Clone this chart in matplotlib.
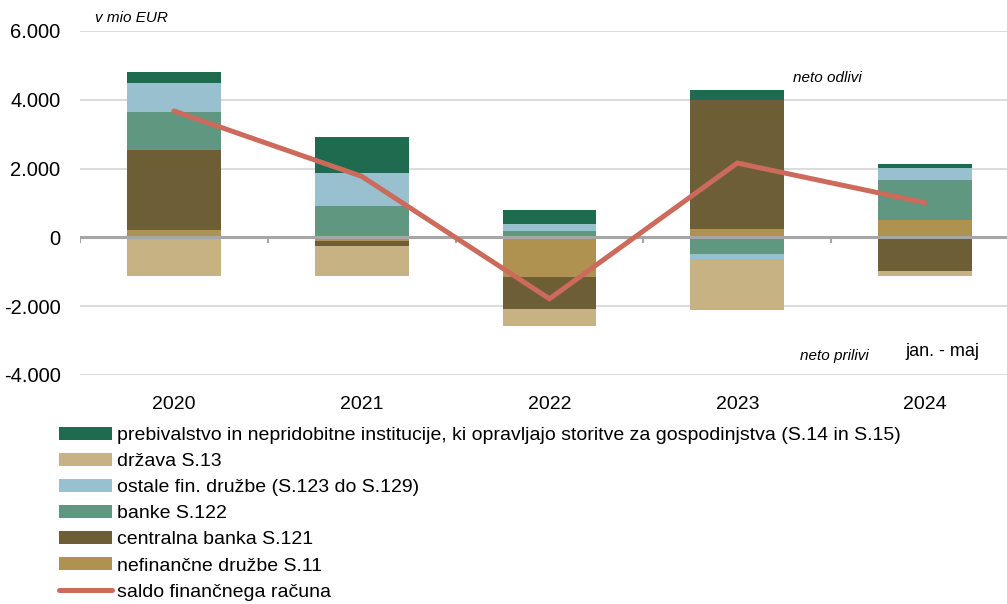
import numpy as np
import matplotlib
matplotlib.use("Agg")
import matplotlib.pyplot as plt
from matplotlib.patches import Patch
from matplotlib.lines import Line2D

plt.rcParams["font.family"] = ["Liberation Sans", "DejaVu Sans"]
plt.rcParams["axes.unicode_minus"] = False

years = ["2020", "2021", "2022", "2023", "2024"]

# mio EUR
prebivalstvo = [320, 1040, 408, 271, 128]
drzava = [-1135, -875, -505, -1484, -145]
ostale = [840, 970, 203, -145, 338]
banke = [1100, 910, 175, -495, 1164]
centralna = [2350, -150, -930, 3774, -990]
nefinancne = [204, -110, -1155, 233, 515]
saldo = [3675, 1775, -1785, 2162, 1010]

y_ticks = [-4000, -2000, 0, 2000, 4000, 6000]
y_labels = ["-4.000", "-2.000", "0", "2.000", "4.000", "6.000"]

# stacking order bottom -> top, legend shows it reversed
series = [
    ("nefinančne družbe S.11", nefinancne, "#b09250"),
    ("centralna banka S.121", centralna, "#6e5e35"),
    ("banke S.122", banke, "#5f9781"),
    ("ostale fin. družbe (S.123 do S.129)", ostale, "#99c0cf"),
    ("država S.13", drzava, "#c6b283"),
    ("prebivalstvo in nepridobitne institucije, ki opravljajo storitve za gospodinjstva (S.14 in S.15)",
     prebivalstvo, "#1f6b50"),
]
line_color = "#cc6a5c"

fig = plt.figure(figsize=(10.07, 6.04), dpi=100)
ax = fig.add_axes([80 / 1007, 1 - 375 / 604, 1 - 80 / 1007, (375 - 31) / 604])

x = np.arange(len(years))
pos_base = np.zeros(len(years))
neg_base = np.zeros(len(years))
for name, vals, col in series:
    v = np.array(vals, dtype=float)
    base = np.where(v >= 0, pos_base, neg_base)
    ax.bar(x, v, 0.5, bottom=base, color=col, edgecolor="none", zorder=2)
    pos_base += np.where(v >= 0, v, 0)
    neg_base += np.where(v < 0, v, 0)

ax.plot(x, saldo, color=line_color, lw=3.6, solid_capstyle="round",
        solid_joinstyle="miter", zorder=4)

# grid and zero axis
for t in y_ticks:
    if t != 0:
        ax.axhline(t, color="#d9d9d9", lw=1.3, zorder=1)
ax.axhline(0, color="#a6a6a6", lw=2.2, zorder=3)
ax.vlines(np.arange(-0.5, len(years)), -170, 0, color="#a6a6a6", lw=1.5, zorder=3)

ax.set_xlim(-0.5, 4.5 - 12 / 188)
ax.set_ylim(-4000, 6000)
ax.set_yticks(y_ticks)
ax.set_yticklabels(y_labels, fontsize=14.5)
ax.set_xticks(x)
ax.set_xticklabels(years, fontsize=14)
ax.tick_params(axis="y", length=0, pad=14)
ax.tick_params(axis="x", length=0, pad=15)
for s in ax.spines.values():
    s.set_visible(False)

fig.text(95 / 1007, 1 - 18 / 604, "v mio EUR", fontsize=11, style="italic", va="center")
fig.text(793 / 1007, 1 - 78 / 604, "neto odlivi", fontsize=11, style="italic", va="center")
fig.text(800 / 1007, 1 - 356 / 604, "neto prilivi", fontsize=11, style="italic", va="center")
fig.text(905 / 1007, 1 - 352 / 604, "jan. - maj", fontsize=13, va="center")

handles = [Patch(facecolor=col, edgecolor="none", label=name) for name, _, col in series[::-1]]
handles.append(Line2D([], [], color=line_color, lw=3.6, solid_capstyle="round",
                      label="saldo finančnega računa"))
fig.legend(handles=handles, loc="upper left", bbox_to_anchor=(59 / 1007, 1 - 427 / 604),
           frameon=False, fontsize=14, handlelength=2.7, handleheight=0.62,
           handletextpad=0.28, labelspacing=0.46, borderpad=0, borderaxespad=0)

fig.savefig("out.png", dpi=100)
